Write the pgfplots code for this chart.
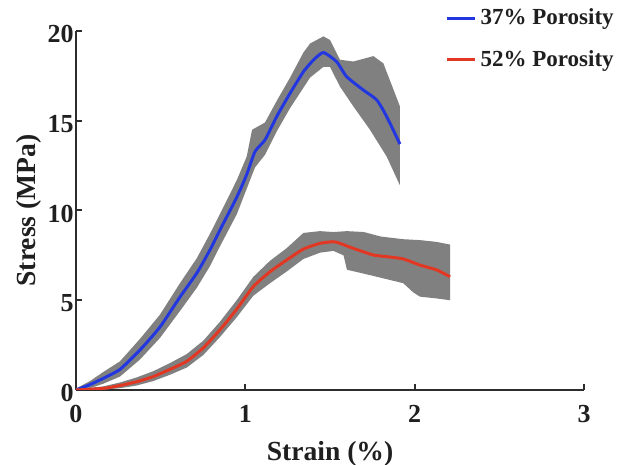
\documentclass[border=0pt]{standalone}
\usepackage{fontspec}
\setmainfont{Liberation Serif}
\usepackage{pgfplots}
\usepackage{pgfplotstable}
\pgfplotsset{compat=1.18}

\definecolor{bandgray}{RGB}{128,128,128}
\definecolor{meanblue}{RGB}{35,55,225}
\definecolor{meanred}{RGB}{225,55,35}
\definecolor{axisdark}{RGB}{45,45,45}

% mean curves: strain (%), stress (MPa)
\pgfplotstableread{
x      y
0      0
0.083  0.30
0.161  0.65
0.26   1.15
0.378  2.23
0.496  3.51
0.614  5.18
0.714  6.52
0.791  7.80
0.850  8.91
0.950  10.75
1.008  12.00
1.057  13.28
1.116  13.93
1.185  15.23
1.264  16.53
1.343  17.73
1.402  18.38
1.461  18.80
1.539  18.29
1.598  17.46
1.697  16.71
1.776  16.16
1.835  15.23
1.913  13.70
}\meanA

\pgfplotstableread{
x      y
0      0
0.161  0.09
0.26   0.25
0.358  0.46
0.457  0.75
0.555  1.15
0.654  1.60
0.752  2.35
0.850  3.35
0.949  4.50
1.047  5.76
1.146  6.59
1.244  7.24
1.343  7.85
1.441  8.17
1.520  8.26
1.559  8.17
1.638  7.89
1.756  7.52
1.835  7.43
1.933  7.30
2.031  6.96
2.130  6.69
2.209  6.31
}\meanB

% spread outlines: upper edge left to right, then lower edge right to left
\pgfplotstableread{
x      y
0      0.08
0.083  0.50
0.161  1.00
0.26   1.60
0.378  2.85
0.496  4.20
0.614  5.95
0.714  7.35
0.791  8.70
0.850  9.80
0.950  11.70
1.008  13.00
1.040  14.50
1.116  14.90
1.185  16.10
1.264  17.40
1.343  18.80
1.382  19.30
1.461  19.70
1.500  19.50
1.559  18.40
1.638  18.30
1.756  18.60
1.815  18.20
1.913  15.80
1.913  11.40
1.835  13.00
1.736  14.50
1.638  15.80
1.559  16.90
1.500  18.00
1.461  18.00
1.382  17.40
1.264  15.70
1.185  14.40
1.116  13.10
1.057  12.40
0.950  9.80
0.850  8.00
0.791  6.90
0.714  5.70
0.614  4.40
0.496  2.90
0.378  1.70
0.26   0.75
0.161  0.35
0.083  0.10
0      0
}\bandA

\pgfplotstableread{
x      y
0      0.04
0.161  0.20
0.26   0.42
0.358  0.70
0.457  1.05
0.555  1.50
0.654  2.00
0.752  2.75
0.850  3.80
0.949  5.00
1.047  6.30
1.146  7.20
1.244  7.90
1.343  8.75
1.441  8.85
1.520  8.80
1.600  8.85
1.700  8.80
1.800  8.55
1.933  8.40
2.031  8.35
2.130  8.25
2.209  8.10
2.209  5.00
2.130  5.10
2.031  5.20
1.990  5.45
1.933  5.95
1.736  6.40
1.600  6.70
1.580  7.50
1.520  7.75
1.441  7.65
1.343  7.30
1.244  6.60
1.146  5.95
1.047  5.25
0.949  4.05
0.850  2.95
0.752  1.95
0.654  1.25
0.555  0.85
0.457  0.50
0.358  0.25
0.26   0.10
0.161  0.02
0      0
}\bandB

\begin{document}
\begin{tikzpicture}
\path[use as bounding box] (0,0) rectangle (311pt,232.5pt);
\begin{axis}[
  at={(38pt,37.5pt)}, anchor=south west,
  scale only axis, width=254pt, height=179.5pt,
  xmin=0, xmax=3, ymin=0, ymax=20,
  axis x line*=bottom, axis y line*=left,
  axis line style={axisdark, line width=1.2pt, -},
  xtick={0,1,2,3}, ytick={0,5,10,15,20},
  tick align=inside, major tick length=3pt,
  tick style={axisdark, line width=1pt},
  /pgf/number format/assume math mode=true,
  tick label style={font=\bfseries\fontsize{13}{13}\selectfont, text=black!88},
  xticklabel style={yshift=-4pt},
  yticklabel style={xshift=2.3pt, yshift=-1.5pt},
  xlabel={Strain (\%)}, ylabel={Stress (MPa)},
  label style={font=\bfseries\fontsize{13.8}{14}\selectfont, text=black!88},
  xlabel style={at={(axis description cs:0.5,-0.195)}, anchor=base},
  ylabel style={at={(axis description cs:-0.079,0.5)}, anchor=base, rotate=0},
  legend style={at={(axis description cs:0.715,1.086)}, anchor=north west,
    draw=none, fill=none, font=\bfseries\fontsize{11.5}{12}\selectfont,
    text=black!88, row sep=7.5pt},
  legend cell align=left,
  legend image code/.code={\draw[#1] (0pt,0pt) -- (14pt,0pt);},
]
\addplot[fill=bandgray, draw=none, forget plot] table[x=x, y=y] {\bandA} -- cycle;
\addplot[fill=bandgray, draw=none, forget plot] table[x=x, y=y] {\bandB} -- cycle;

\addplot[meanblue, line width=1.5pt, smooth, tension=0.35] table[x=x, y=y] {\meanA};
\addlegendentry{37\% Porosity}
\addplot[meanred, line width=1.5pt, smooth, tension=0.35] table[x=x, y=y] {\meanB};
\addlegendentry{52\% Porosity}
\end{axis}
\end{tikzpicture}
\end{document}
